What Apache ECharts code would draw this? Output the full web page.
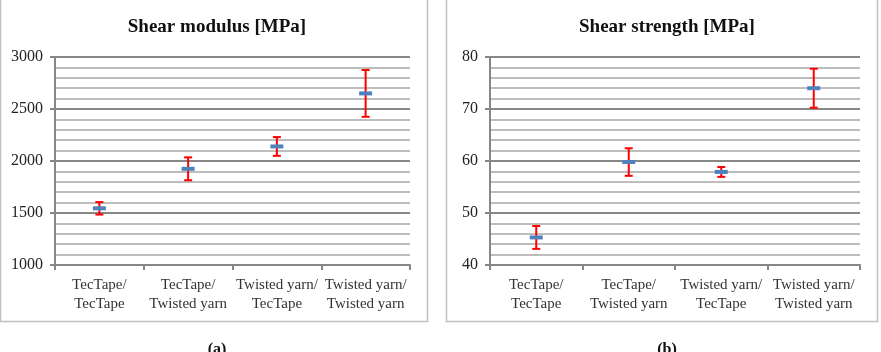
<!DOCTYPE html>
<html>
<head>
<meta charset="utf-8">
<script src="https://cdn.jsdelivr.net/npm/echarts@6/dist/echarts.min.js"></script>
<style>
  html, body { margin: 0; padding: 0; background: #fff; }
  #main { width: 881px; height: 352px; }
</style>
</head>
<body>
<div id="main"></div>
<script>
// 数据
const categories = ['TecTape/\nTecTape', 'TecTape/\nTwisted yarn', 'Twisted yarn/\nTecTape', 'Twisted yarn/\nTwisted yarn'];
const modulusMean = [1545, 1925, 2140, 2650];
const modulusErr = [60, 110, 90, 225];
const strengthMean = [45.3, 59.8, 57.9, 74.0];
const strengthErr = [2.2, 2.65, 0.95, 3.75];
const modulusTicks = [1000, 3000, 500];
const strengthTicks = [40, 80, 10];

const FONT = '"Liberation Serif", "DejaVu Serif", serif';
const MAJOR = '#878787';
const MINOR = '#BDBDBD';

// 误差线 (红色, 带帽)
function errorBarItem(params, api) {
    let x = api.value(0);
    let lo = api.coord([x, api.value(1)]);
    let hi = api.coord([x, api.value(2)]);
    let cap = 4;
    let st = { stroke: '#FF0000', lineWidth: 2 };
    return {
        type: 'group',
        children: [
            { type: 'line', shape: { x1: lo[0], y1: lo[1], x2: hi[0], y2: hi[1] }, style: st },
            { type: 'line', shape: { x1: lo[0] - cap, y1: lo[1], x2: lo[0] + cap, y2: lo[1] }, style: st },
            { type: 'line', shape: { x1: hi[0] - cap, y1: hi[1], x2: hi[0] + cap, y2: hi[1] }, style: st }
        ]
    };
}
// 平均值 (蓝色短横)
function meanItem(params, api) {
    let p = api.coord([api.value(0), api.value(1)]);
    return {
        type: 'rect',
        shape: { x: p[0] - 6.5, y: p[1] - 2, width: 13, height: 4 },
        style: { fill: '#4F81BD' }
    };
}

function errData(mean, err) {
    return mean.map((m, i) => [i, m - err[i], m + err[i]]);
}
function meanData(mean) {
    return mean.map((m, i) => [i, m]);
}

function xAxisOf(idx) {
    return {
        type: 'category', gridIndex: idx, data: categories, boundaryGap: true,
        axisLine: { lineStyle: { color: MAJOR, width: 2 } },
        axisTick: { show: true, length: 5, lineStyle: { color: MAJOR, width: 2 } },
        axisLabel: { color: '#333', fontFamily: FONT, fontSize: 15, lineHeight: 19, margin: 11, interval: 0 },
        splitLine: { show: false }
    };
}
function yAxisOf(idx, ticks) {
    return {
        type: 'value', gridIndex: idx, min: ticks[0], max: ticks[1], interval: ticks[2],
        axisLine: { show: true, lineStyle: { color: MAJOR, width: 2 } },
        axisTick: { show: true, length: 5, lineStyle: { color: MAJOR, width: 2 } },
        axisLabel: { color: '#222', fontFamily: FONT, fontSize: 16, margin: 12,
                     formatter: function (v) { return String(v); } },
        splitLine: { show: true, lineStyle: { color: MAJOR, width: 2 } },
        minorTick: { show: false, splitNumber: 5 },
        minorSplitLine: { show: true, lineStyle: { color: MINOR, width: 2 } }
    };
}

let myChart = echarts.init(document.getElementById('main'));
let option = {
    animation: false,
    backgroundColor: '#fff',
    title: [
        { text: 'Shear modulus [MPa]', left: 212, top: 13, textAlign: 'center',
          textStyle: { fontFamily: FONT, fontSize: 19, fontWeight: 'bold', color: '#111' } },
        { text: 'Shear strength [MPa]', left: 662, top: 13, textAlign: 'center',
          textStyle: { fontFamily: FONT, fontSize: 19, fontWeight: 'bold', color: '#111' } },
        { text: '(a)', left: 212, top: 337, textAlign: 'center',
          textStyle: { fontFamily: FONT, fontSize: 16, fontWeight: 'bold', color: '#111' } },
        { text: '(b)', left: 662, top: 337, textAlign: 'center',
          textStyle: { fontFamily: FONT, fontSize: 16, fontWeight: 'bold', color: '#111' } }
    ],
    graphic: [
        { type: 'rect', shape: { x: 0.5, y: -1, width: 427, height: 322.5 },
          style: { fill: 'none', stroke: '#BFBFBF', lineWidth: 1.5 } },
        { type: 'rect', shape: { x: 446.5, y: -1, width: 431, height: 322.5 },
          style: { fill: 'none', stroke: '#BFBFBF', lineWidth: 1.5 } }
    ],
    grid: [
        { left: 55, top: 57, width: 355, height: 208 },
        { left: 490, top: 57, width: 370, height: 208 }
    ],
    xAxis: [xAxisOf(0), xAxisOf(1)],
    yAxis: [yAxisOf(0, modulusTicks), yAxisOf(1, strengthTicks)],
    series: [
        { type: 'custom', xAxisIndex: 0, yAxisIndex: 0, renderItem: errorBarItem,
          encode: { x: 0, y: [1, 2] }, data: errData(modulusMean, modulusErr), z: 3 },
        { type: 'custom', xAxisIndex: 0, yAxisIndex: 0, renderItem: meanItem,
          encode: { x: 0, y: 1 }, data: meanData(modulusMean), z: 4 },
        { type: 'custom', xAxisIndex: 1, yAxisIndex: 1, renderItem: errorBarItem,
          encode: { x: 0, y: [1, 2] }, data: errData(strengthMean, strengthErr), z: 3 },
        { type: 'custom', xAxisIndex: 1, yAxisIndex: 1, renderItem: meanItem,
          encode: { x: 0, y: 1 }, data: meanData(strengthMean), z: 4 }
    ]
};
myChart.setOption(option);
</script>
</body>
</html>
